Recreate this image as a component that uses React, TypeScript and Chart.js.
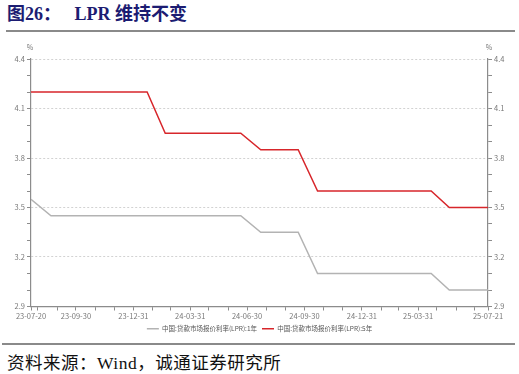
import React, { useEffect, useRef } from "react";
import { Chart, registerables } from "chart.js";

Chart.register(...registerables);

// LPR fixing dates (monthly)
const dates = [
  "2023-07-20", "2023-08-21", "2023-09-20", "2023-10-20", "2023-11-20", "2023-12-20",
  "2024-01-22", "2024-02-20", "2024-03-20", "2024-04-22", "2024-05-20", "2024-06-20",
  "2024-07-22", "2024-08-20", "2024-09-20", "2024-10-21", "2024-11-20", "2024-12-20",
  "2025-01-20", "2025-02-20", "2025-03-20", "2025-04-21", "2025-05-20", "2025-06-20",
  "2025-07-21",
];
const lpr1y = [
  3.55, 3.45, 3.45, 3.45, 3.45, 3.45,
  3.45, 3.45, 3.45, 3.45, 3.45, 3.45,
  3.35, 3.35, 3.35, 3.1, 3.1, 3.1,
  3.1, 3.1, 3.1, 3.1, 3.0, 3.0,
  3.0,
];
const lpr5y = [
  4.2, 4.2, 4.2, 4.2, 4.2, 4.2,
  4.2, 3.95, 3.95, 3.95, 3.95, 3.95,
  3.85, 3.85, 3.85, 3.6, 3.6, 3.6,
  3.6, 3.6, 3.6, 3.6, 3.5, 3.5,
  3.5,
];
const seriesNames = ["中国:贷款市场报价利率(LPR):1年", "中国:贷款市场报价利率(LPR):5年"];
const seriesColors = ["#b3b3b3", "#d7262b"];

// x axis ticks: start, month ends, end
const xTickDates = [
  "2023-07-20", "2023-07-31", "2023-08-31", "2023-09-30", "2023-10-31", "2023-11-30", "2023-12-31",
  "2024-01-31", "2024-02-29", "2024-03-31", "2024-04-30", "2024-05-31", "2024-06-30",
  "2024-07-31", "2024-08-31", "2024-09-30", "2024-10-31", "2024-11-30", "2024-12-31",
  "2025-01-31", "2025-02-28", "2025-03-31", "2025-04-30", "2025-05-31", "2025-06-30",
  "2025-07-21",
];
const xLabelDates = [
  "2023-07-20", "2023-09-30", "2023-12-31", "2024-03-31", "2024-06-30",
  "2024-09-30", "2024-12-31", "2025-03-31", "2025-07-21",
];
const yMin = 2.9;
const yMax = 4.4;
const yLabels = ["2.9", "3.2", "3.5", "3.8", "4.1", "4.4"];

const BASE = Date.UTC(2023, 6, 20);
const toDay = (s: string) =>
  (Date.UTC(+s.slice(0, 4), +s.slice(5, 7) - 1, +s.slice(8, 10)) - BASE) / 86400000;
const shortLabel = (s: string) => s.slice(2);

const FONT = '"Noto Sans CJK SC", "DejaVu Sans", sans-serif';

const isMajorY = (v: number | undefined) => {
  if (v === undefined || v === null) return false;
  return yLabels.includes((Math.round(v * 10) / 10).toFixed(1));
};

function LprChart() {
  const ref = useRef<HTMLCanvasElement | null>(null);
  useEffect(() => {
    if (!ref.current) return;
    const labelMap: Record<string, string> = {};
    xLabelDates.forEach((d) => (labelMap[String(toDay(d))] = shortLabel(d)));

    const percentPlugin = {
      id: "percentLabels",
      afterDraw(chart: any) {
        const { ctx, chartArea, scales } = chart;
        ctx.save();
        ctx.font = `7px ${FONT}`;
        ctx.fillStyle = "#777";
        ctx.textAlign = "center";
        ctx.textBaseline = "middle";
        ctx.fillText("%", scales.y.right - 1, chartArea.top - 12);
        ctx.fillText("%", scales.y1.left + 1, chartArea.top - 12);
        ctx.restore();
      },
    };

    const yAxis = (position: "left" | "right") => ({
      type: "linear" as const,
      position,
      min: yMin,
      max: yMax,
      ticks: {
        stepSize: 0.1,
        autoSkip: false,
        callback: (v: any) => (isMajorY(Number(v)) ? Number(v).toFixed(1) : ""),
        font: { size: 7.5, family: FONT },
        color: "#777",
        padding: 2,
      },
      grid: {
        drawOnChartArea: position === "left",
        color: (c: any) => (c.tick && isMajorY(c.tick.value) ? "#d2d2d2" : "rgba(0,0,0,0)"),
        lineWidth: 1,
        tickLength: 4,
        tickColor: "#8c8c8c",
      },
      border: { color: "#8c8c8c", width: 1.2, dash: [2, 2] },
      afterFit: (s: any) => {
        s.width = 31;
      },
    });

    const chart = new Chart(ref.current, {
      type: "line",
      data: {
        datasets: [
          {
            label: seriesNames[0],
            data: dates.map((d, i) => ({ x: toDay(d), y: lpr1y[i] })),
            borderColor: seriesColors[0],
            backgroundColor: seriesColors[0],
            borderWidth: 1.5,
            pointRadius: 0,
            pointStyle: "line",
            tension: 0,
            yAxisID: "y",
          },
          {
            label: seriesNames[1],
            data: dates.map((d, i) => ({ x: toDay(d), y: lpr5y[i] })),
            borderColor: seriesColors[1],
            backgroundColor: seriesColors[1],
            borderWidth: 1.5,
            pointRadius: 0,
            pointStyle: "line",
            tension: 0,
            yAxisID: "y",
          },
        ],
      },
      options: {
        responsive: false,
        animation: false,
        devicePixelRatio: 1,
        layout: { padding: { top: 24, left: 0, right: 0, bottom: 0 } },
        plugins: {
          legend: {
            position: "bottom",
            labels: {
              usePointStyle: true,
              pointStyleWidth: 12,
              boxHeight: 6.5,
              padding: 5,
              font: { size: 6.5, family: FONT },
              color: "#555",
            },
          },
          tooltip: { enabled: false },
        },
        scales: {
          x: {
            type: "linear",
            min: 0,
            max: toDay(xTickDates[xTickDates.length - 1]),
            afterBuildTicks: (s: any) => {
              s.ticks = xTickDates.map((d) => ({ value: toDay(d) }));
            },
            ticks: {
              autoSkip: false,
              maxRotation: 0,
              minRotation: 0,
              callback: (v: any) => labelMap[String(v)] ?? "",
              font: { size: 7.5, family: FONT },
              color: "#777",
              padding: 1,
            },
            grid: { drawOnChartArea: false, tickLength: 4, tickColor: "#8c8c8c" },
            border: { color: "#8c8c8c", width: 1.2 },
            afterFit: (s: any) => {
              s.height = 14;
            },
          },
          y: yAxis("left"),
          y1: yAxis("right"),
        },
      },
      plugins: [percentPlugin],
    } as any);
    return () => chart.destroy();
  }, []);
  return <canvas ref={ref} width={519} height={307} style={{ display: "block" }} />;
}

export default function App() {
  return (
    <div style={{ position: "absolute", left: 0, top: 0, width: 519, height: 374, background: "#fff", overflow: "hidden" }}>
      <div
        style={{
          position: "absolute",
          left: 7,
          top: 3,
          fontFamily: '"Liberation Serif", "Noto Sans CJK SC", serif',
          fontWeight: "bold",
          fontSize: 18,
          color: "#1c1c72",
          whiteSpace: "pre",
          lineHeight: "22px",
        }}
      >
        图26：   LPR 维持不变
      </div>
      <div style={{ position: "absolute", left: 6, top: 29.5, width: 509, height: 2, background: "#8a8a8a" }} />
      <div style={{ position: "absolute", left: 0, top: 35 }}>
        <LprChart />
      </div>
      <div style={{ position: "absolute", left: 2, top: 343, width: 513, height: 2, background: "#8a8a8a" }} />
      <div
        style={{
          position: "absolute",
          left: 7,
          top: 353,
          fontFamily: '"Liberation Serif", "Noto Sans CJK SC", serif',
          fontSize: 17.5,
          letterSpacing: 0.5,
          color: "#111",
          whiteSpace: "pre",
          lineHeight: "20px",
        }}
      >
        资料来源：Wind，诚通证券研究所
      </div>
    </div>
  );
}
